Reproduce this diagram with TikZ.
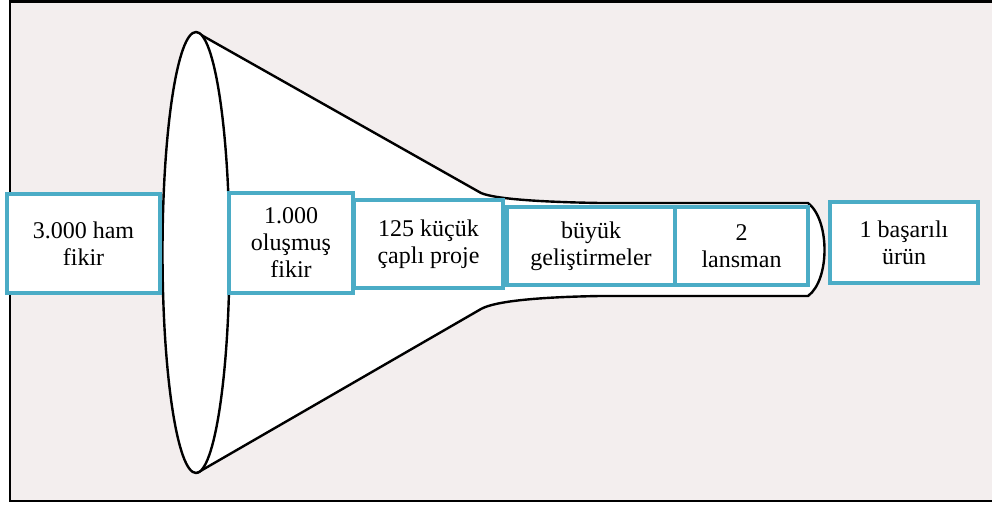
\documentclass[tikz,border=0pt]{standalone}
\usepackage{fontspec}
\setmainfont{Liberation Serif}
\definecolor{bgc}{HTML}{F3EEEE}
\definecolor{boxc}{HTML}{4BACC6}
\begin{document}
\begin{tikzpicture}[x=1pt,y=-1pt,
  stage/.style={draw=boxc, line width=4pt, fill=white, align=center, inner sep=0pt,
    font=\fontsize{24}{27}\selectfont},
  outline/.style={draw=black, line width=2.4pt, line join=round}]
\useasboundingbox (0,0) rectangle (992,505);
\clip (0,0) rectangle (992,505);
% frame and background
\fill[white] (0,0) rectangle (992,505);
\draw[fill=bgc, line width=2.5pt] (10,1.5) rectangle (1005,501);
\draw[line width=4pt] (10,1.5) -- (1005,1.5);
% funnel
\coordinate (etop) at (196,32);
\coordinate (ebot) at (197,473);
\coordinate (nt) at (481,193);
\coordinate (nb) at (481,309);
\coordinate (tt) at (808,203);
\coordinate (tb) at (808,296);
\draw[outline, fill=white] (etop) -- (nt)
  .. controls (495,199) and (540,202) .. (600,203) -- (tt)
  .. controls (830,220) and (830,280) .. (tb) -- (600,296)
  .. controls (540,297) and (495,301) .. (nb) -- (ebot);
\draw[outline, fill=white] (196,252.5) ellipse [x radius=33.5, y radius=220.5];
% stages
\node[stage, minimum width=153, minimum height=99] (s1) at (83.5,243.5) {3.000 ham\\fikir};
\node[stage, minimum width=124, minimum height=100] (s2) at (291,243) {1.000\\oluşmuş\\fikir};
\node[stage, minimum width=149, minimum height=88] (s3) at (428.5,244) {125 küçük\\çaplı proje};
\node[stage, minimum width=168, minimum height=78] (s4) at (591,246) {büyük\\geliştirmeler};
\node[stage, minimum width=133, minimum height=78] (s5) at (741.5,246) {2\\lansman};
\node[stage, minimum width=148, minimum height=81] (s6) at (904,242.5) {1 başarılı\\ürün};
\end{tikzpicture}
\end{document}
